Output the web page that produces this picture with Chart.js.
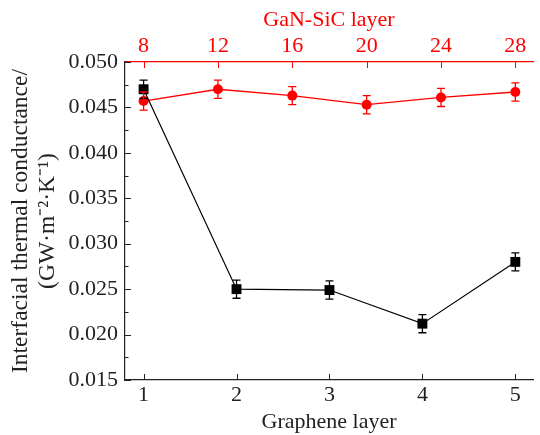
<!DOCTYPE html>
<html>
<head>
<meta charset="utf-8">
<script src="https://cdn.jsdelivr.net/npm/chart.js@4/dist/chart.umd.min.js"></script>
<style>
  html, body { margin: 0; padding: 0; background: #fff; }
  #wrap { width: 540px; height: 435px; }
</style>
</head>
<body>
<div id="wrap"><canvas id="chartIntf"></canvas></div>
<script>
// Grafeno (eixo inferior) e GaN-SiC (eixo superior, vermelho)
const grapheneLayers = [1, 2, 3, 4, 5];
const grapheneG = [0.0470, 0.0250, 0.0249, 0.0212, 0.0280];
const grapheneErr = [0.0010, 0.0010, 0.0010, 0.0010, 0.0010];

const ganLayers = [8, 12, 16, 20, 24, 28];
const ganG = [0.0457, 0.0470, 0.0463, 0.0453, 0.0461, 0.0467];
const ganErr = [0.0010, 0.0010, 0.0010, 0.0010, 0.0010, 0.0010];

const yTicks = [0.015, 0.020, 0.025, 0.030, 0.035, 0.040, 0.045, 0.050];
const yMinorTicks = [0.0175, 0.0225, 0.0275, 0.0325, 0.0375, 0.0425, 0.0475];
const xTicks = [1, 2, 3, 4, 5];
const x2Ticks = [8, 12, 16, 20, 24, 28];

const RED = '#ff0000';
const FONT = 'Liberation Serif';
const FS = 22;

const noPad = (s) => { s.paddingLeft = 0; s.paddingRight = 0; s.paddingTop = 0; s.paddingBottom = 0; };

// barras de erro + marcas de escala para dentro
const errorBars = {
  id: 'errorBars',
  afterDatasetsDraw(chart) {
    const { ctx } = chart;
    chart.data.datasets.forEach((ds, i) => {
      const meta = chart.getDatasetMeta(i);
      const ys = chart.scales[meta.yAxisID];
      ctx.save();
      ctx.strokeStyle = ds.borderColor;
      ctx.lineWidth = 1.3;
      meta.data.forEach((pt, j) => {
        const v = ds.data[j].y, e = ds.errs[j];
        const y1 = ys.getPixelForValue(v + e), y2 = ys.getPixelForValue(v - e);
        ctx.beginPath();
        ctx.moveTo(pt.x, y1); ctx.lineTo(pt.x, y2);
        ctx.moveTo(pt.x - 4, y1); ctx.lineTo(pt.x + 4, y1);
        ctx.moveTo(pt.x - 4, y2); ctx.lineTo(pt.x + 4, y2);
        ctx.stroke();
      });
      ctx.restore();
    });
  },
  afterDraw(chart) {
    const { ctx, chartArea: a, scales } = chart;
    ctx.save();
    ctx.lineWidth = 1;
    ctx.strokeStyle = '#222';
    ctx.beginPath();
    yTicks.forEach((t) => { const y = Math.round(scales.y.getPixelForValue(t)) + 0.5; ctx.moveTo(a.left, y); ctx.lineTo(a.left + 6, y); });
    yMinorTicks.forEach((t) => { const y = Math.round(scales.y.getPixelForValue(t)) + 0.5; ctx.moveTo(a.left, y); ctx.lineTo(a.left + 3.5, y); });
    xTicks.forEach((t) => { const x = Math.round(scales.x.getPixelForValue(t)) + 0.5; ctx.moveTo(x, a.bottom); ctx.lineTo(x, a.bottom - 6); });
    ctx.stroke();
    ctx.strokeStyle = RED;
    ctx.beginPath();
    x2Ticks.forEach((t) => { const x = Math.round(scales.x2.getPixelForValue(t)) + 0.5; ctx.moveTo(x, a.top); ctx.lineTo(x, a.top + 6); });
    ctx.stroke();
    ctx.restore();
  },
};

new Chart(document.getElementById('chartIntf'), {
  type: 'scatter',
  data: {
    datasets: [
      {
        label: 'Graphene',
        data: grapheneLayers.map((x, i) => ({ x, y: grapheneG[i] })),
        errs: grapheneErr,
        xAxisID: 'x',
        yAxisID: 'y',
        showLine: true,
        borderColor: '#000',
        backgroundColor: '#000',
        borderWidth: 1.2,
        pointStyle: 'rect',
        pointRadius: 7,
        pointBorderWidth: 0,
        order: 1,
      },
      {
        label: 'GaN-SiC',
        data: ganLayers.map((x, i) => ({ x, y: ganG[i] })),
        errs: ganErr,
        xAxisID: 'x2',
        yAxisID: 'y',
        showLine: true,
        borderColor: RED,
        backgroundColor: RED,
        borderWidth: 1.3,
        pointStyle: 'circle',
        pointRadius: 5,
        pointBorderWidth: 0,
        order: 2,
      },
    ],
  },
  options: {
    responsive: true,
    maintainAspectRatio: false,
    animation: false,
    layout: { padding: 0 },
    plugins: { legend: { display: false }, tooltip: { enabled: false } },
    scales: {
      x: {
        type: 'linear',
        position: 'bottom',
        min: 0.8,
        max: 5.19,
        afterBuildTicks: (s) => { s.ticks = xTicks.map((v) => ({ value: v })); },
        afterFit: (s) => { s.height = 55; noPad(s); },
        grid: { display: false, drawTicks: false },
        border: { display: true, color: '#222', width: 1.2 },
        ticks: { color: '#222', padding: 2, font: { family: FONT, size: FS } },
        title: { display: true, text: 'Graphene layer', color: '#222', padding: { top: 0, bottom: 0 }, font: { family: FONT, size: FS } },
      },
      x2: {
        type: 'linear',
        position: 'top',
        min: 7,
        max: 28.95,
        afterBuildTicks: (s) => { s.ticks = x2Ticks.map((v) => ({ value: v })); },
        afterFit: (s) => { s.height = 62; noPad(s); },
        grid: { display: false, drawTicks: false },
        border: { display: true, color: RED, width: 1.2 },
        ticks: { color: RED, padding: 3, font: { family: FONT, size: FS } },
        title: { display: true, text: 'GaN-SiC layer', color: RED, padding: { top: 7, bottom: 0 }, font: { family: FONT, size: FS } },
      },
      y: {
        type: 'linear',
        position: 'left',
        min: 0.015,
        max: 0.050,
        afterBuildTicks: (s) => { s.ticks = yTicks.map((v) => ({ value: v })); },
        afterFit: (s) => { s.width = 125; noPad(s); },
        grid: { display: false, drawTicks: false },
        border: { display: true, color: '#222', width: 1.2 },
        ticks: { color: '#222', padding: 7, font: { family: FONT, size: FS }, callback: (v) => Number(v).toFixed(3) },
        title: {
          display: true,
          text: ['Interfacial thermal conductance/', '(GW·m⁻²·K⁻¹)'],
          color: '#222',
          padding: { top: 7, bottom: 0 },
          font: { family: FONT, size: 23.5, lineHeight: 1.15 },
        },
      },
    },
  },
  plugins: [errorBars],
});
</script>
</body>
</html>
